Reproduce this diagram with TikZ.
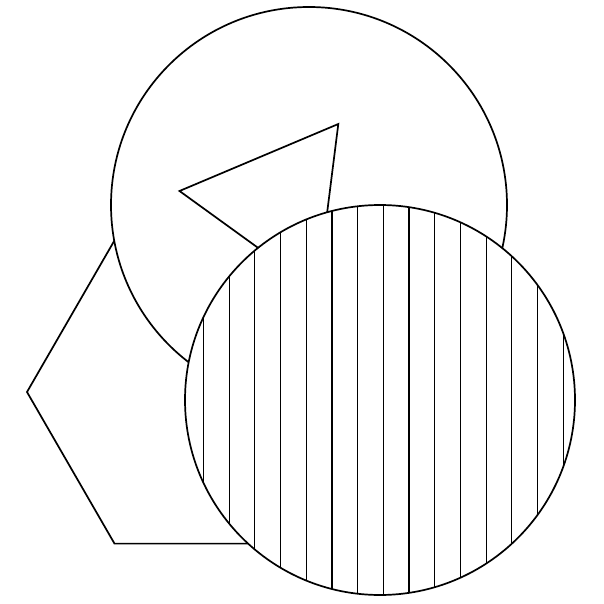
\documentclass[tikz,border=0pt]{standalone}
\begin{document}
\begin{tikzpicture}[x=1pt,y=-1pt,
  outline/.style={draw=black,line width=1.7pt,fill=white,line join=miter},
  hatchline/.style={draw=black,line width=1.2pt}]
\useasboundingbox (0,0) rectangle (603,604);
% hexagon
\draw[outline] (27,392) -- (114.5,240.4) -- (289.5,240.4) -- (377,392) -- (289.5,543.6) -- (114.5,543.6) -- cycle;
% big circle
\draw[outline] (309,205) circle[radius=198];
% triangle
\draw[outline] (179.5,191) -- (338.3,124) -- (317.3,290.7) -- cycle;
% hatched circle
\coordinate (hc) at (380,400);
\fill[white] (hc) circle[radius=195];
\begin{scope}
  \clip (hc) circle[radius=195];
  \foreach \k in {-7,...,7} {
    \draw[hatchline] ({383.3+\k*25.7},190) -- ({383.3+\k*25.7},610);
  }
\end{scope}
\draw[draw=black,line width=1.7pt] (hc) circle[radius=195];
\end{tikzpicture}
\end{document}
